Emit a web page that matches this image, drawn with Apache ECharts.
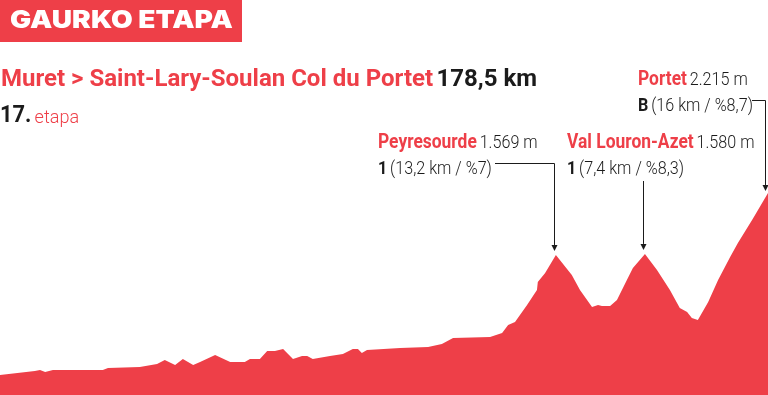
<!DOCTYPE html>
<html><head><meta charset="utf-8">
<script src="https://cdn.jsdelivr.net/npm/echarts@6/dist/echarts.min.js"></script>
<style>html,body{margin:0;padding:0;background:#fff}#c{width:768px;height:395px}</style>
</head><body><div id="c"></div>
<script>
// distance (km) along stage
const distanceKm = [0,8.1,9.3,10.5,12.3,23.9,25.1,32.5,36.5,38.3,40.7,42.5,44.9,46.5,50.0,53.5,56.9,58.1,60.4,62.1,63.9,65.8,68.1,70.2,71.4,72.7,76.7,79.7,82.0,83.2,84.1,85.3,93.0,99.5,102.7,105.3,113.9,116.7,118.1,119.7,122.5,124.8,125.0,126.7,129.2,132.9,134.8,137.6,139.0,139.9,141.8,143.4,145.7,147.1,149.9,152.7,155.7,158.0,159.7,160.8,162.2,164.6,166.9,169.7,171.5,174.8,175.9,178.5];
// elevation (m)
const elevationM = [318,360,370,350,370,370,391,402,433,475,423,485,423,454,527,454,454,485,485,568,568,589,485,516,516,485,516,537,589,589,548,579,600,610,641,704,714,756,839,871,1048,1204,1287,1381,1569,1360,1204,1027,1048,1037,1037,1100,1308,1433,1580,1413,1204,1017,975,912,892,1079,1308,1548,1694,1934,2017,2215];
// climbs
const climbNames = ['Peyresourde','Val Louron-Azet','Portet'];
const climbKm = [129.2,149.9,178.5];
const climbElev = [1569,1580,2215];
const climbHeightLabel = ['1.569 m','1.580 m','2.215 m'];
const climbCat = ['1','1','B'];
const climbDetail = ['(13,2 km / %7)','(7,4 km / %8,3)','(16 km / %8,7)'];
const headerText = 'GAURKO ETAPA';
const routeText = 'Muret > Saint-Lary-Soulan Col du Portet';
const lengthText = '178,5 km';
const stageNo = '17.';
const stageWord = 'etapa';

const RED = '#ee3f48', INK = '#1b1b1b';
const chart = echarts.init(document.getElementById('c'), null, {renderer:'canvas'});
chart.setOption({
  animation:false,
  grid:{left:0,right:0,top:0,bottom:0},
  xAxis:{type:'value',min:0,max:178.5,show:false},
  yAxis:{type:'value',min:110,max:4226,show:false},
  series:[{type:'line',data:distanceKm.map((d,i)=>[d,elevationM[i]]),symbol:'none',
    lineStyle:{width:0},areaStyle:{color:RED,opacity:1,origin:'start'},itemStyle:{color:RED}}]
});

const P = climbKm.map((k,i)=>chart.convertToPixel({seriesIndex:0},[k,climbElev[i]]));
const g = [];
// header
g.push({type:'rect',shape:{x:0,y:0,width:242,height:42},style:{fill:RED}});
g.push({type:'text',x:10,y:9,scaleX:1.17,style:{text:headerText,font:'900 24px Inter',fill:'#fff',verticalAlign:'top'}});
// title
g.push({type:'text',x:1,y:67,scaleX:1.0,style:{text:'{r|'+routeText+'} {k|'+lengthText+'}',verticalAlign:'top',
  rich:{r:{font:'bold 24px Roboto',fill:RED,lineHeight:26},k:{font:'bold 24px Roboto',fill:INK,lineHeight:26}}}});
g.push({type:'text',x:0,y:104,scaleX:0.95,style:{text:'{n|'+stageNo+'} {e|'+stageWord+'}',verticalAlign:'top',
  rich:{n:{font:'bold 23px Roboto',fill:INK,lineHeight:24,verticalAlign:'bottom'},e:{font:'300 19px Roboto',fill:RED,lineHeight:24,verticalAlign:'bottom'}}}});
// climb labels
const lab = [[378,130],[567,130],[638,67]];
climbNames.forEach((nm,i)=>{
  g.push({type:'text',x:lab[i][0],y:lab[i][1],scaleX:0.85,style:{text:'{a|'+nm+'} {b|'+climbHeightLabel[i]+'}\n{c|'+climbCat[i]+'} {b|'+climbDetail[i]+'}',verticalAlign:'top',
    rich:{a:{font:'bold 20.5px Roboto',fill:RED,lineHeight:26},b:{font:'300 19px Roboto',fill:INK,lineHeight:26},c:{font:'bold 19px Roboto',fill:INK,lineHeight:26}}}});
});
// connectors
const lineStyle = {stroke:INK,lineWidth:1};
const arrow = (x,y)=>({type:'polygon',shape:{points:[[x-3,y-6],[x+3,y-6],[x,y]]},style:{fill:INK}});
// Peyresourde
let x0=Math.round(P[0][0])-1.5, y0=163.5;
g.push({type:'polyline',shape:{points:[[495,y0],[x0,y0],[x0,P[0][1]-10]]},style:lineStyle});
g.push(arrow(x0,P[0][1]-4));
// Val Louron
let x1=Math.round(P[1][0])-1.5;
g.push({type:'polyline',shape:{points:[[x1,181],[x1,P[1][1]-10]]},style:lineStyle});
g.push(arrow(x1,P[1][1]-4));
// Portet
let x2=Math.round(P[2][0])-2.5, y2=100.5;
g.push({type:'polyline',shape:{points:[[752,y2],[x2,y2],[x2,P[2][1]-8]]},style:lineStyle});
g.push(arrow(x2,P[2][1]-2));
chart.setOption({graphic:g});
</script></body></html>
